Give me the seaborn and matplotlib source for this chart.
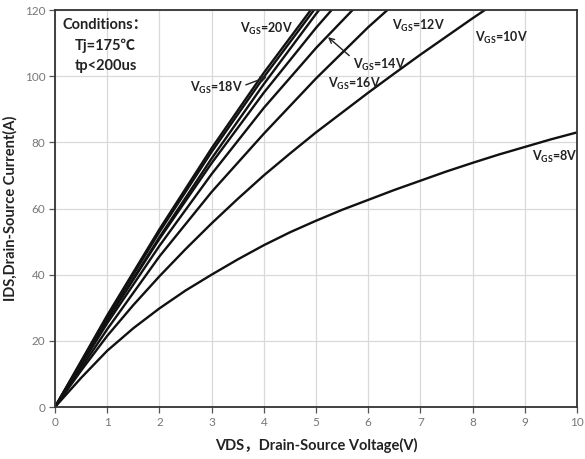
import matplotlib
matplotlib.use("Agg")
import matplotlib.pyplot as plt
import seaborn as sns
import pandas as pd

# Drain-source voltage sample points (V) for the steep curves
vds_coarse = [0, 1, 2, 3, 4, 5, 6, 7]
# Finer voltage steps for the two low gate-drive curves
vds_fine = [0, 0.5, 1, 1.5, 2, 2.5, 3, 3.5, 4, 4.5, 5, 5.5,
            6, 6.5, 7, 7.5, 8, 8.5, 9, 9.5, 10]

# Drain current (A) for each gate drive
i_vgs20 = [0, 27.7, 53.7, 78.2, 101.0, 122.1, 141.7]
i_vgs18 = [0, 27.2, 52.9, 77.1, 99.7, 120.8, 140.3]
i_curve3 = [0, 26.3, 51.3, 75.1, 97.6, 118.8, 138.8]
i_vgs16 = [0, 26.2, 50.8, 73.7, 95.0, 114.6, 132.6]
i_vgs14 = [0, 25.3, 48.7, 70.4, 90.4, 108.5, 124.9]
i_vgs12 = [0, 23.5, 45.5, 65.0, 82.6, 99.3, 114.8, 128.9]
i_vgs10 = [0, 11.0, 21.5, 30.8, 39.5, 47.7, 55.5, 62.9, 70.0, 76.6,
           83.0, 89.0, 95.0, 100.8, 106.5, 112.0, 117.5, 122.8, 128.0]
i_vgs8 = [0, 8.8, 17.0, 23.8, 29.8, 35.2, 40.0, 44.6, 48.9, 52.8,
          56.3, 59.6, 62.6, 65.6, 68.4, 71.2, 73.8, 76.3, 78.6, 80.9, 83.0]

curve_names = ["20V", "18V", "c3", "16V", "14V", "12V", "10V", "8V"]
curve_values = [i_vgs20, i_vgs18, i_curve3, i_vgs16, i_vgs14, i_vgs12, i_vgs10, i_vgs8]
curve_grids = [vds_coarse] * 6 + [vds_fine, vds_fine]

x_ticks = [0, 1, 2, 3, 4, 5, 6, 7, 8, 9, 10]
y_ticks = [0, 20, 40, 60, 80, 100, 120]

rows = []
for name, grid, vals in zip(curve_names, curve_grids, curve_values):
    for v, i in zip(grid, vals):
        rows.append({"VDS": v, "IDS": i, "VGS": name})
df = pd.DataFrame(rows)

sns.set_style("white")
plt.rcParams["font.family"] = ["Lato", "Noto Sans CJK SC", "DejaVu Sans"]
plt.rcParams["mathtext.fontset"] = "custom"
plt.rcParams["mathtext.rm"] = "Lato"
plt.rcParams["mathtext.bf"] = "Lato:bold"

fig = plt.figure(figsize=(5.85, 4.59), dpi=100)
ax = fig.add_axes([55 / 585, 52 / 459, 522 / 585, 397 / 459])

sns.lineplot(data=df, x="VDS", y="IDS", hue="VGS", units="VGS", estimator=None,
             palette=["#111111"] * len(curve_names), linewidth=1.7,
             legend=False, sort=False, ax=ax)

ax.set_xlim(0, 10)
ax.set_ylim(0, 120)
ax.set_xticks(x_ticks)
ax.set_yticks(y_ticks)
ax.grid(True, color="#d9d9d9", linewidth=0.9)
ax.set_axisbelow(True)
for side in ["left", "right", "top", "bottom"]:
    ax.spines[side].set_visible(True)
    ax.spines[side].set_color("#333333")
    ax.spines[side].set_linewidth(1.3)
ax.tick_params(axis="both", which="major", direction="out", length=4, width=0.9,
               color="#555555", labelcolor="#777777", labelsize=8.5,
               left=True, bottom=True, pad=3)

ax.set_xlabel("VDS，Drain-Source Voltage(V)", fontsize=10.5, fontweight="bold",
              color="#222222", labelpad=7)
ax.set_ylabel("IDS,Drain-Source Current(A)", fontsize=10.5, fontweight="bold",
              color="#222222", labelpad=5)

# Test conditions
cond_kw = dict(fontsize=10.5, fontweight="bold", color="#222222", va="center", ha="left")
ax.text(0.15, 115.4, "Conditions：", **cond_kw)
ax.text(0.38, 109.3, "Tj=175℃", **cond_kw)
ax.text(0.37, 103.2, "tp<200us", **cond_kw)

def vgs_label(value):
    return r"$\mathbf{V_{GS}}$=" + value

lab_kw = dict(fontsize=9, fontweight="bold", color="#222222", va="center", ha="left")

ax.text(3.54, 114.3, vgs_label("20V"), **lab_kw)
ax.text(6.46, 115.2, vgs_label("12V"), **lab_kw)
ax.text(8.05, 111.6, vgs_label("10V"), **lab_kw)
ax.text(9.14, 75.5, vgs_label("8V"), **lab_kw)
ax.text(5.23, 97.6, vgs_label("16V"), **lab_kw)

ax.annotate(vgs_label("18V"), xy=(4.06, 99.8), xytext=(2.58, 96.5),
            arrowprops=dict(arrowstyle="->", color="#222222", lw=1.0,
                            relpos=(1.0, 0.6), shrinkA=0, shrinkB=0),
            **lab_kw)
ax.annotate(vgs_label("14V"), xy=(5.23, 111.8), xytext=(5.7, 103.4),
            arrowprops=dict(arrowstyle="->", color="#222222", lw=1.0,
                            relpos=(0.0, 0.9), shrinkA=0, shrinkB=0),
            **lab_kw)

fig.savefig("out.png", dpi=100)
